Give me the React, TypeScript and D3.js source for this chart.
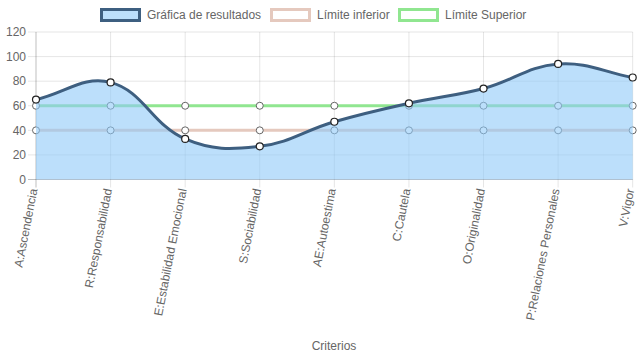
import React from "react";
import * as d3 from "d3";

const categories = [
  "A:Ascendencia",
  "R:Responsabilidad",
  "E:Estabilidad Emocional",
  "S:Sociabilidad",
  "AE:Autoestima",
  "C:Cautela",
  "O:Originalidad",
  "P:Relaciones Personales",
  "V:Vigor",
];
const resultados = [65, 79, 33, 27, 47, 62, 74, 94, 83];
const limiteInferior = [40, 40, 40, 40, 40, 40, 40, 40, 40];
const limiteSuperior = [60, 60, 60, 60, 60, 60, 60, 60, 60];
const yTicks = [0, 20, 40, 60, 80, 100, 120];
const legendLabels = ["Gráfica de resultados", "Límite inferior", "Límite Superior"];

const W = 637;
const H = 359;
const left = 36;
const right = 632.7;
const top = 32;
const bottom = 179.5;

type P = { x: number; y: number };

function splinePath(pts: P[], t: number): string {
  const n = pts.length;
  const cps: { prev: P; next: P }[] = [];
  for (let i = 0; i < n; i++) {
    const cur = pts[i];
    const prev = i > 0 ? pts[i - 1] : cur;
    const next = i < n - 1 ? pts[i + 1] : cur;
    const d01 = Math.hypot(cur.x - prev.x, cur.y - prev.y);
    const d12 = Math.hypot(next.x - cur.x, next.y - cur.y);
    let s01 = d01 / (d01 + d12);
    let s12 = d12 / (d01 + d12);
    if (isNaN(s01)) s01 = 0;
    if (isNaN(s12)) s12 = 0;
    const fa = t * s01;
    const fb = t * s12;
    const cap = (p: P): P => ({
      x: Math.max(left, Math.min(right, p.x)),
      y: Math.max(top, Math.min(bottom, p.y)),
    });
    cps.push({
      prev: cap({ x: cur.x - fa * (next.x - prev.x), y: cur.y - fa * (next.y - prev.y) }),
      next: cap({ x: cur.x + fb * (next.x - prev.x), y: cur.y + fb * (next.y - prev.y) }),
    });
  }
  let d = `M${pts[0].x},${pts[0].y}`;
  for (let i = 1; i < n; i++) {
    const a = cps[i - 1].next;
    const b = cps[i].prev;
    d += `C${a.x},${a.y},${b.x},${b.y},${pts[i].x},${pts[i].y}`;
  }
  return d;
}

export default function App() {
  const x = d3
    .scalePoint<string>()
    .domain(categories)
    .range([left, right]);
  const y = d3.scaleLinear().domain([0, 120]).range([bottom, top]);

  const font = "'Liberation Sans', Arial, Helvetica, sans-serif";
  const textColor = "#666";
  const gridColor = "rgba(0,0,0,0.1)";

  const resPts = categories.map((c, i) => ({ x: x(c)!, y: y(resultados[i]) }));
  const linePath = splinePath(resPts, 0.4);
  const areaPath =
    linePath + `L${resPts[resPts.length - 1].x},${y(0)}L${resPts[0].x},${y(0)}Z`;

  const infColor = "rgb(229,201,190)";
  const supColor = "rgb(144,230,144)";
  const resLine = "rgb(62,95,128)";
  const resFill = "rgba(144,202,249,0.6)";

  const limitLine = (vals: number[], color: string) => {
    const gen = d3
      .line<number>()
      .x((_, i) => x(categories[i])!)
      .y((v) => y(v));
    return (
      <g>
        <path d={gen(vals) || ""} fill="none" stroke={color} strokeWidth={3} />
        {vals.map((v, i) => (
          <circle
            key={i}
            cx={x(categories[i])}
            cy={y(v)}
            r={3.5}
            fill="#fff"
            stroke="#666"
            strokeWidth={1}
          />
        ))}
      </g>
    );
  };

  const legendItems = [
    { label: legendLabels[0], fill: resFill, stroke: resLine, bx: 100 },
    { label: legendLabels[1], fill: "#fff", stroke: infColor, bx: 270 },
    { label: legendLabels[2], fill: "#fff", stroke: supColor, bx: 398 },
  ];

  return (
    <svg
      width={W}
      height={H}
      style={{ position: "absolute", left: 0, top: 0, background: "#fff" }}
      fontFamily={font}
    >
      {/* horizontal grid */}
      {yTicks.map((t) => (
        <g key={t}>
          <line
            x1={left - 8}
            x2={right}
            y1={y(t)}
            y2={y(t)}
            stroke={t === 0 ? "rgba(0,0,0,0.25)" : gridColor}
            strokeWidth={1}
          />
          <text
            x={left - 10}
            y={y(t)}
            dy="0.35em"
            textAnchor="end"
            fontSize={12}
            fill={textColor}
          >
            {t}
          </text>
        </g>
      ))}
      {/* vertical grid */}
      {categories.map((c, i) => (
        <line
          key={c}
          x1={x(c)}
          x2={x(c)}
          y1={top}
          y2={bottom + 8}
          stroke={i === 0 ? "rgba(0,0,0,0.25)" : gridColor}
          strokeWidth={1}
        />
      ))}
      {/* x labels */}
      {categories.map((c) => (
        <text
          key={c}
          transform={`translate(${x(c)! + 1.5},${bottom + 10}) rotate(-79)`}
          textAnchor="end"
          fontSize={12}
          fill={textColor}
        >
          {c}
        </text>
      ))}
      <text x={334} y={350} textAnchor="middle" fontSize={12} fill={textColor}>
        Criterios
      </text>

      {limitLine(limiteSuperior, supColor)}
      {limitLine(limiteInferior, infColor)}

      <path d={areaPath} fill={resFill} stroke="none" />
      <path d={linePath} fill="none" stroke={resLine} strokeWidth={3} />
      {resPts.map((p, i) => (
        <circle key={i} cx={p.x} cy={p.y} r={3.5} fill="#fff" stroke="#222" strokeWidth={1.2} />
      ))}

      {/* legend */}
      {legendItems.map((it) => (
        <g key={it.label}>
          <rect
            x={it.bx + 1.5}
            y={9.5}
            width={38}
            height={11}
            fill={it.fill}
            stroke={it.stroke}
            strokeWidth={3}
          />
          <text x={it.bx + 47} y={15} dy="0.35em" fontSize={12} fill={textColor}>
            {it.label}
          </text>
        </g>
      ))}
    </svg>
  );
}
